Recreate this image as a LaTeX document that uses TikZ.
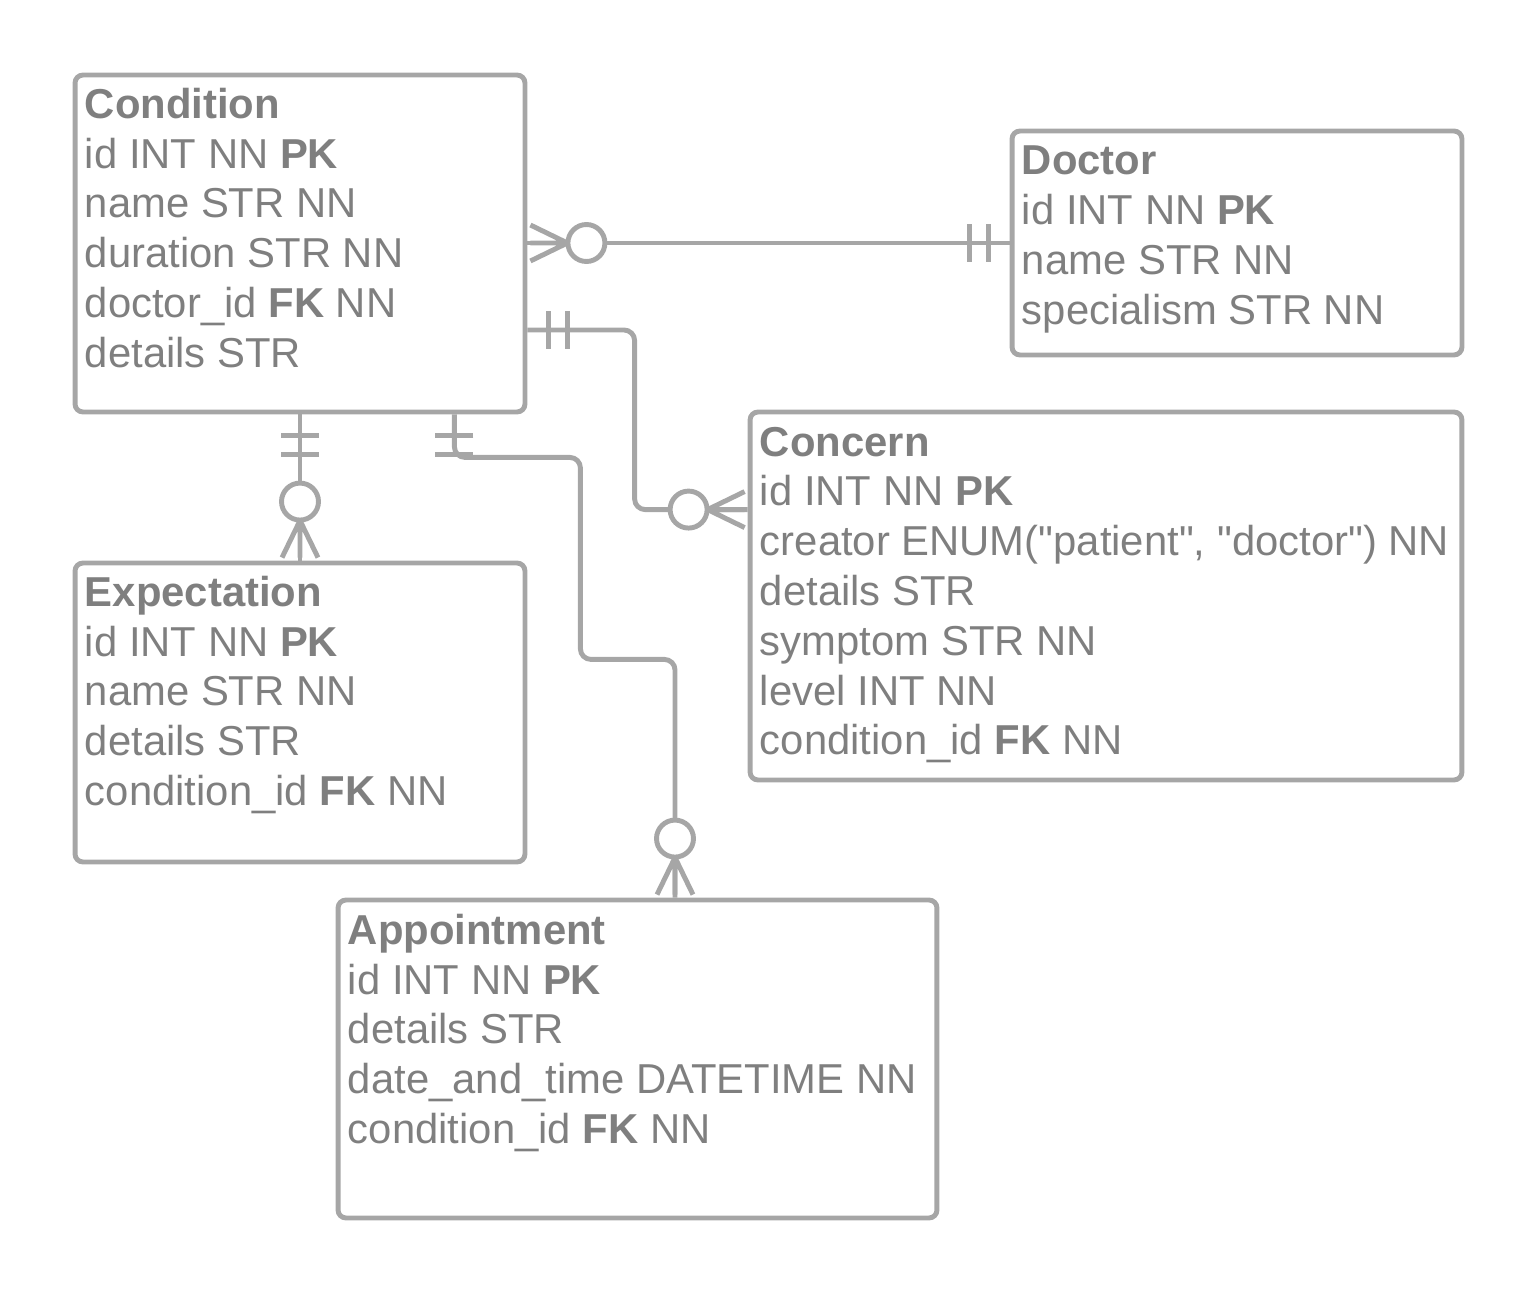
\documentclass[tikz,border=0pt]{standalone}
\usepackage{fontspec}
\setmainfont{Liberation Sans}[Ligatures=TeXOff]
\usetikzlibrary{positioning,calc}
\definecolor{linegray}{HTML}{A6A6A6}
\definecolor{textgray}{HTML}{7F7F7F}
\tikzset{
    entity/.style={rectangle, draw=linegray, line width=2.8pt, rounded corners=4.5pt, inner sep=0pt},
    attrs/.style={align=left, inner sep=0pt, text=textgray, font=\fontsize{23.8pt}{28.35pt}\selectfont},
    rel/.style={draw=linegray, line width=2.8pt, rounded corners=6pt},
    onlyone/.pic={\draw[linegray, line width=2.8pt] (21,-19) -- (21,19) (40,-19) -- (40,19);},
    zeromany/.pic={\draw[linegray, line width=2.8pt, line join=round] (3,-18) -- (40,0) -- (3,18) (3,0) -- (40,0);
        \draw[linegray, line width=2.8pt, fill=white] (59,0) circle[radius=0.37cm];}
}
\begin{document}
\begin{tikzpicture}[x=0.02cm, y=-0.02cm]
    \useasboundingbox (0,0) rectangle (1538,1294);

    % entities
    \node[entity, minimum width=9cm, minimum height=6.74cm] (cond) at (300,243.5) {};
    \node[entity, minimum width=9cm, minimum height=4.48cm] (doc) at (1237,243) {};
    \node[entity, minimum width=14.24cm, minimum height=7.36cm] (conc) at (1106,596) {};
    \node[entity, minimum width=9cm, minimum height=5.98cm] (expt) at (300,712.5) {};
    \node[entity, minimum width=11.98cm, minimum height=6.36cm] (appt) at (637.5,1059) {};

    \node[attrs, below right=0.30cm and 0.24cm of cond.north west] (condtext) {\textbf{Condition}\\
        id INT NN \textbf{PK}\\
        name STR NN\\
        duration STR NN\\
        doctor\_id \textbf{FK} NN\\
        details STR};
    \node[attrs, below right=0.34cm and 0.24cm of doc.north west] (doctext) {\textbf{Doctor}\\
        id INT NN \textbf{PK}\\
        name STR NN\\
        specialism STR NN};
    \node[attrs, below right=0.34cm and 0.24cm of conc.north west] (conctext) {\textbf{Concern}\\
        id INT NN \textbf{PK}\\
        creator ENUM("patient", "doctor") NN\\
        details STR\\
        symptom STR NN\\
        level INT NN\\
        condition\_id \textbf{FK} NN};
    \node[attrs, below right=0.30cm and 0.24cm of expt.north west] (expttext) {\textbf{Expectation}\\
        id INT NN \textbf{PK}\\
        name STR NN\\
        details STR\\
        condition\_id \textbf{FK} NN};
    \node[attrs, below right=0.32cm and 0.24cm of appt.north west] (appttext) {\textbf{Appointment}\\
        id INT NN \textbf{PK}\\
        details STR\\
        date\_and\_time DATETIME NN\\
        condition\_id \textbf{FK} NN};

    % relationships
    \coordinate (cd) at (cond.east |- doc.west);
    \coordinate (cc1) at ($(cond.east)+(0,86.5)$);
    \coordinate (cc2) at ($(conc.north west)+(0,100)$);
    \coordinate (ca1) at ($(cond.south east)+(-73,0)$);
    \coordinate (ca2) at ($(appt.north)+(37.5,0)$);

    \draw[rel] (cd) -- (doc.west);
    \draw[rel] (cc1) -| ($(cc2)+(-113,0)$) -- (cc2);
    \draw[rel] (cond.south) -- (expt.north);
    \draw[rel] (ca1) -- ++(0,43) -| ++(126,202) -| (ca2);

    \pic at (cd) {zeromany};
    \pic[rotate=180] at (doc.west) {onlyone};
    \pic at (cc1) {onlyone};
    \pic[rotate=180] at (cc2) {zeromany};
    \pic[rotate=-90] at (cond.south) {onlyone};
    \pic[rotate=90] at (expt.north) {zeromany};
    \pic[rotate=-90] at (ca1) {onlyone};
    \pic[rotate=90] at (ca2) {zeromany};
\end{tikzpicture}
\end{document}
